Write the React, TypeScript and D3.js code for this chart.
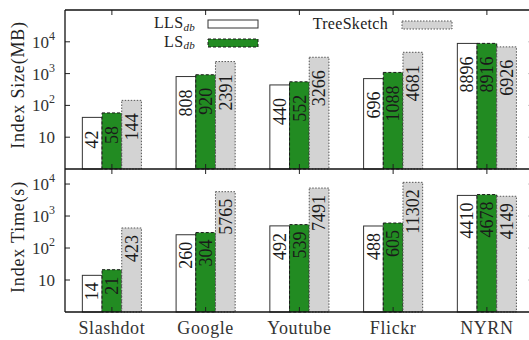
import React from "react";
import * as d3 from "d3";

const categories = ["Slashdot", "Google", "Youtube", "Flickr", "NYRN"];
const seriesNames = ["LLS", "LS", "TreeSketch"];
const sizeLLS = [42, 808, 440, 696, 8896];
const sizeLS = [58, 920, 552, 1088, 8916];
const sizeTree = [144, 2391, 3266, 4681, 6926];
const timeLLS = [14, 260, 492, 488, 4410];
const timeLS = [21, 304, 539, 605, 4678];
const timeTree = [423, 5765, 7491, 11302, 4149];
const yTickValues = [10, 100, 1000, 10000];

const W = 529;
const H = 340;
const FONT = "'Liberation Serif', 'DejaVu Serif', serif";

const styles = [
  { fill: "#ffffff", stroke: "#333333", dash: "none" },
  { fill: "#228b22", stroke: "#1a1a1a", dash: "3,2" },
  { fill: "#d3d3d3", stroke: "#555555", dash: "1.5,1.5" },
];

const x = d3.scaleLinear().domain([-0.5, 4.5]).range([65, 533.75]);
const barW = x(0.21) - x(0);

type PanelProps = {
  series: number[][];
  y: d3.ScaleLogarithmic<number, number>;
  top: number;
  bottom: number;
  labelOffset: number;
  title: string;
  titleY: number;
};

function TickLabel({ v, yy }: { v: number; yy: number }) {
  const exp = Math.round(Math.log10(v));
  if (exp === 1) {
    return (
      <text x={55} y={yy + 6} textAnchor="end" fontSize={17} fill="#333">
        10
      </text>
    );
  }
  return (
    <text x={55} y={yy + 6} textAnchor="end" fontSize={17} fill="#333">
      10
      <tspan dy={-8} fontSize={12}>
        {exp}
      </tspan>
    </text>
  );
}

function Panel({ series, y, top, bottom, labelOffset, title, titleY }: PanelProps) {
  const right = x.range()[1];
  return (
    <g>
      {series.map((vals, s) =>
        vals.map((v, i) => {
          const x0 = x(i) + (s - 1.5) * barW;
          const yTop = y(v);
          const st = styles[s];
          return (
            <rect
              key={`b${s}-${i}`}
              x={x0}
              y={yTop}
              width={barW}
              height={bottom - yTop}
              fill={st.fill}
              stroke={st.stroke}
              strokeWidth={1}
              strokeDasharray={st.dash}
            />
          );
        })
      )}
      {series.map((vals, s) =>
        vals.map((v, i) => {
          const cx = x(i) + (s - 1) * barW;
          const ty = y(v) + labelOffset;
          return (
            <text
              key={`l${s}-${i}`}
              transform={`translate(${cx + 6.3},${ty}) rotate(-90)`}
              textAnchor="end"
              fontSize={18}
              fill="#1a1a1a"
            >
              {v}
            </text>
          );
        })
      )}
      {yTickValues
        .filter((v) => y(v) > top + 2)
        .map((v) => (
          <g key={`t${v}`}>
            <line x1={65} x2={70} y1={y(v)} y2={y(v)} stroke="#222" strokeWidth={1} />
            <line x1={right - 5} x2={right} y1={y(v)} y2={y(v)} stroke="#222" strokeWidth={1} />
            <TickLabel v={v} yy={y(v)} />
          </g>
        ))}
      {categories.map((c, i) => (
        <g key={`xt${i}`}>
          <line x1={x(i)} x2={x(i)} y1={top} y2={top + 5} stroke="#222" strokeWidth={1} />
          <line x1={x(i)} x2={x(i)} y1={bottom} y2={bottom - 5} stroke="#222" strokeWidth={1} />
        </g>
      ))}
      <text
        transform={`translate(24,${titleY}) rotate(-90)`}
        textAnchor="middle"
        fontSize={18}
        letterSpacing={0.8}
        fill="#222"
      >
        {title}
      </text>
    </g>
  );
}

export default function App() {
  const yTop = d3.scaleLog().domain([1, 1e5]).range([169, 10]);
  const yBot = d3.scaleLog().domain([1, Math.pow(10, 4.47)]).range([312, 169]);
  const right = x.range()[1];

  const legend = [
    { name: seriesNames[0], sub: "db", tx: 195, ty: 28, bx: 208, by: 20 },
    { name: seriesNames[1], sub: "db", tx: 195, ty: 46.5, bx: 208, by: 39 },
    { name: seriesNames[2], sub: "", tx: 388, ty: 29, bx: 402, by: 21 },
  ];

  return (
    <svg
      width={W}
      height={H}
      style={{ position: "absolute", left: 0, top: 0, background: "#fff" }}
      fontFamily={FONT}
    >
      <rect x={0} y={0} width={W} height={H} fill="#fff" />
      <Panel
        series={[sizeLLS, sizeLS, sizeTree]}
        y={yTop}
        top={10}
        bottom={169}
        labelOffset={13}
        title="Index Size(MB)"
        titleY={85}
      />
      <Panel
        series={[timeLLS, timeLS, timeTree]}
        y={yBot}
        top={169}
        bottom={312}
        labelOffset={7}
        title="Index Time(s)"
        titleY={237}
      />
      <line x1={65} x2={right} y1={10} y2={10} stroke="#111" strokeWidth={1.3} />
      <line x1={65} x2={right} y1={169} y2={169} stroke="#111" strokeWidth={1.5} />
      <line x1={65} x2={right} y1={312} y2={312} stroke="#111" strokeWidth={1.3} />
      <line x1={65} x2={65} y1={10} y2={312} stroke="#111" strokeWidth={1.3} />
      {categories.map((c, i) => (
        <text key={c} x={x(i)} y={334} textAnchor="middle" fontSize={18} letterSpacing={0.6} fill="#333">
          {c}
        </text>
      ))}
      {legend.map((l, s) => (
        <g key={l.name}>
          <text x={l.tx} y={l.ty} textAnchor="end" fontSize={16} letterSpacing={0.3} fill="#222">
            {l.name}
            {l.sub && (
              <tspan dy={2.5} fontSize={11} fontStyle="italic">
                {l.sub}
              </tspan>
            )}
          </text>
          <rect
            x={l.bx}
            y={l.by}
            width={50}
            height={8}
            fill={styles[s].fill}
            stroke={styles[s].stroke}
            strokeWidth={1}
            strokeDasharray={styles[s].dash}
          />
        </g>
      ))}
    </svg>
  );
}
